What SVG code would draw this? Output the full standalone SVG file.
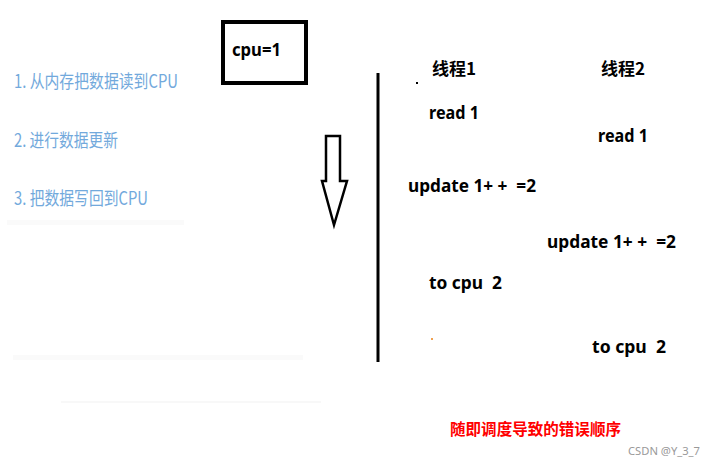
<svg xmlns="http://www.w3.org/2000/svg" width="714" height="467" viewBox="0 0 714 467">
<style>
.step{font-family:"Noto Sans CJK SC","Noto Sans",sans-serif;font-size:18px;font-weight:400;fill:#72a9dc}
.b{font-family:"Noto Sans","Noto Sans CJK SC",sans-serif;font-size:17px;font-weight:bold;fill:#000;white-space:pre}
.h{font-family:"Noto Sans CJK SC",sans-serif;font-size:17px;font-weight:bold;fill:#000}
</style>
<rect width="714" height="467" fill="#fff"/>
<g id="faint">
<rect x="7" y="220" width="177" height="5" fill="#fafafa"/>
<rect x="13" y="355" width="290" height="5" fill="#fafafa"/>
<rect x="61" y="401" width="260" height="2" fill="#f8f8f8"/>
</g>
<g id="steps">
<text class="step" x="14" y="88" textLength="164" lengthAdjust="spacingAndGlyphs">1. 从内存把数据读到CPU</text>
<text class="step" x="14" y="147" textLength="104" lengthAdjust="spacingAndGlyphs">2. 进行数据更新</text>
<text class="step" x="14" y="205" textLength="134" lengthAdjust="spacingAndGlyphs">3. 把数据写回到CPU</text>
</g>
<g id="cpu-box">
<rect x="223" y="22" width="83" height="61" fill="none" stroke="#000" stroke-width="4"/>
<text class="b" x="232" y="56" textLength="49" lengthAdjust="spacingAndGlyphs">cpu=1</text>
</g>
<g id="connectors">
<path d="M326 136 H340 V181 H347 L334 225 L322 181 H326 Z" fill="#fff" stroke="#000" stroke-width="2.5" stroke-linejoin="miter"/>
<line x1="378" y1="73" x2="378" y2="362" stroke="#000" stroke-width="3"/>
</g>
<g id="thread1">
<text class="h" x="432" y="75">线程1</text>
<rect x="416" y="82" width="2" height="2" fill="#000"/>
<text class="b" x="429" y="119" textLength="50" lengthAdjust="spacingAndGlyphs">read 1</text>
<text class="b" x="408" y="192" textLength="128" lengthAdjust="spacingAndGlyphs">update 1+ +  =2</text>
<text class="b" x="429" y="289" textLength="73" lengthAdjust="spacingAndGlyphs">to cpu  2</text>
<rect x="431" y="338" width="2" height="2" fill="#f0a050"/>
</g>
<g id="thread2">
<text class="h" x="601" y="75">线程2</text>
<text class="b" x="598" y="142" textLength="50" lengthAdjust="spacingAndGlyphs">read 1</text>
<text class="b" x="547" y="248" textLength="129" lengthAdjust="spacingAndGlyphs">update 1+ +  =2</text>
<text class="b" x="592" y="353" textLength="74" lengthAdjust="spacingAndGlyphs">to cpu  2</text>
</g>
<g id="caption">
<text x="450" y="435" font-family="Noto Sans CJK SC,sans-serif" font-size="15.5" font-weight="bold" fill="#f00" textLength="171" lengthAdjust="spacingAndGlyphs">随即调度导致的错误顺序</text>
</g>
<g id="watermark">
<text x="628" y="455" font-family="Noto Sans,sans-serif" font-size="11" fill="#999" textLength="72" lengthAdjust="spacingAndGlyphs">CSDN @Y_3_7</text>
</g>
</svg>
